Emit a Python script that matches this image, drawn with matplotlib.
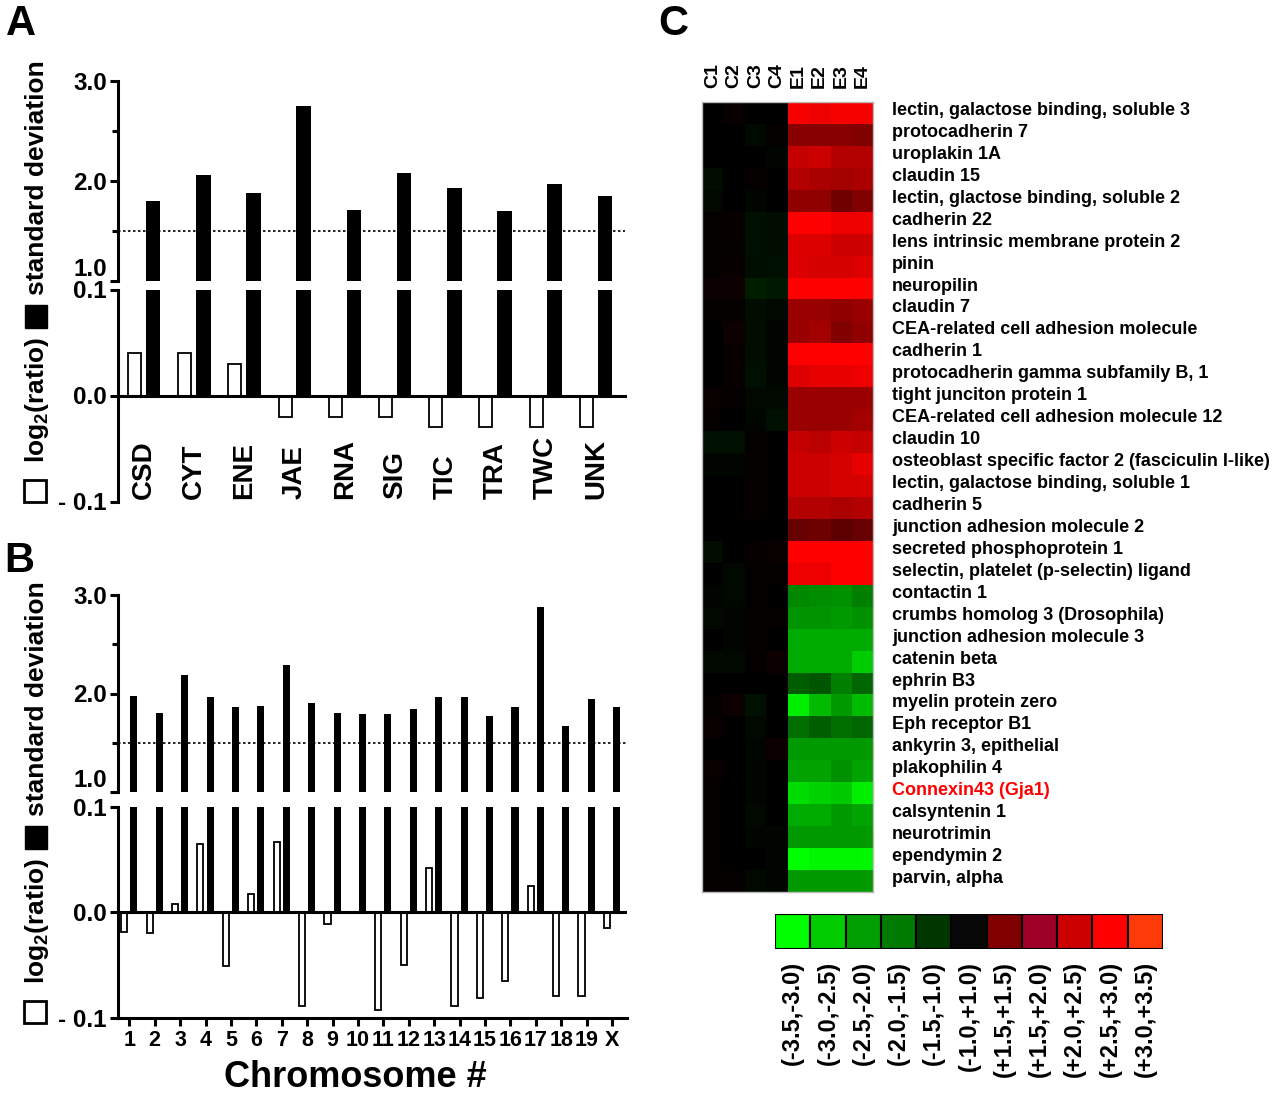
import numpy as np
import matplotlib
matplotlib.use('Agg')
import matplotlib.pyplot as plt
from matplotlib.colors import LinearSegmentedColormap
from matplotlib.patches import Rectangle
import matplotlib.transforms as mtrans

plt.rcParams['font.family'] = ['Liberation Sans', 'DejaVu Sans']
plt.rcParams['font.weight'] = 'bold'
plt.rcParams['mathtext.fontset'] = 'custom'
plt.rcParams['mathtext.rm'] = 'Liberation Sans:bold'
plt.rcParams['mathtext.it'] = 'Liberation Sans:bold'
plt.rcParams['mathtext.bf'] = 'Liberation Sans:bold'

# ---------------- data ----------------
categories_a = ["CSD", "CYT", "ENE", "JAE", "RNA", "SIG", "TIC", "TRA", "TWC", "UNK"]
sd_a = [1.80, 2.06, 1.88, 2.75, 1.71, 2.08, 1.93, 1.70, 1.97, 1.85]
log2_a = [0.040, 0.040, 0.030, -0.020, -0.020, -0.020, -0.030, -0.030, -0.030, -0.030]

chromosomes = ["1", "2", "3", "4", "5", "6", "7", "8", "9", "10",
               "11", "12", "13", "14", "15", "16", "17", "18", "19", "X"]
sd_b = [1.97, 1.80, 2.19, 1.96, 1.86, 1.87, 2.29, 1.90, 1.80, 1.79,
        1.79, 1.84, 1.96, 1.96, 1.77, 1.86, 2.88, 1.67, 1.94, 1.86]
log2_b = [-0.019, -0.020, 0.008, 0.065, -0.051, 0.017, 0.067, -0.089, -0.011, 0.0,
          -0.092, -0.050, 0.042, -0.089, -0.081, -0.065, 0.025, -0.079, -0.079, -0.015]
sd_threshold = 1.5

samples = ["C1", "C2", "C3", "C4", "E1", "E2", "E3", "E4"]
genes = ["lectin, galactose binding, soluble 3", "protocadherin 7", "uroplakin 1A",
         "claudin 15", "lectin, glactose binding, soluble 2", "cadherin 22",
         "lens intrinsic membrane protein 2", "pinin", "neuropilin", "claudin 7",
         "CEA-related cell adhesion molecule", "cadherin 1",
         "protocadherin gamma subfamily B, 1", "tight junciton protein 1",
         "CEA-related cell adhesion molecule 12", "claudin 10",
         "osteoblast specific factor 2 (fasciculin I-like)",
         "lectin, galactose binding, soluble 1", "cadherin 5",
         "junction adhesion molecule 2", "secreted phosphoprotein 1",
         "selectin, platelet (p-selectin) ligand", "contactin 1",
         "crumbs homolog 3 (Drosophila)", "junction adhesion molecule 3",
         "catenin beta", "ephrin B3", "myelin protein zero", "Eph receptor B1",
         "ankyrin 3, epithelial", "plakophilin 4", "Connexin43 (Gja1)",
         "calsyntenin 1", "neurotrimin", "ependymin 2", "parvin, alpha"]
highlight_gene = "Connexin43 (Gja1)"

control_vals = [
    [0.0, 0.1, 0.0, 0.0], [0.0, 0.0, -0.1, 0.05], [0.0, 0.0, 0.0, -0.05],
    [-0.15, 0.0, 0.05, 0.0], [-0.1, 0.0, -0.05, 0.0], [0.05, 0.1, -0.2, -0.15],
    [0.05, 0.05, -0.2, -0.15], [0.05, 0.1, -0.15, -0.2], [0.15, 0.15, -0.35, -0.3],
    [0.05, 0.05, -0.15, -0.1], [0.0, 0.15, -0.15, -0.05], [0.0, 0.1, -0.15, -0.05],
    [0.0, 0.1, -0.2, -0.05], [0.1, 0.05, -0.1, -0.1], [0.05, 0.0, -0.05, -0.2],
    [-0.2, -0.2, 0.05, 0.0], [-0.05, -0.05, 0.05, 0.0], [0.0, 0.0, 0.05, 0.0],
    [0.0, 0.0, 0.05, 0.0], [0.0, 0.0, 0.0, 0.0], [-0.15, 0.0, 0.05, 0.1],
    [0.0, -0.1, 0.05, 0.05], [-0.05, -0.1, 0.05, 0.0], [-0.1, -0.05, 0.05, 0.05],
    [0.0, -0.05, 0.05, 0.0], [-0.1, -0.1, 0.05, 0.15], [0.0, 0.0, 0.0, 0.0],
    [0.05, 0.15, -0.2, 0.0], [0.1, 0.0, -0.1, 0.0], [0.0, 0.0, -0.05, 0.15],
    [0.1, 0.0, -0.05, 0.0], [0.05, 0.0, -0.05, 0.0], [0.05, 0.0, -0.1, 0.0],
    [0.05, 0.0, -0.05, -0.05], [0.05, 0.0, 0.0, -0.05], [0.05, 0.05, -0.1, -0.05]]
experiment_vals = [
    [2.9, 2.8, 2.9, 2.9], [1.6, 1.6, 1.6, 1.5], [2.3, 2.4, 2.1, 2.1],
    [2.1, 2.0, 1.9, 2.0], [1.7, 1.7, 1.3, 1.5], [3.0, 3.0, 2.8, 2.8],
    [2.6, 2.6, 2.4, 2.4], [2.6, 2.5, 2.5, 2.6], [3.0, 3.0, 3.0, 3.0],
    [1.8, 1.8, 1.7, 1.8], [1.8, 1.9, 1.5, 1.7], [3.0, 3.0, 3.0, 3.0],
    [2.6, 2.7, 2.7, 2.8], [1.8, 1.8, 1.8, 1.8], [1.8, 1.8, 1.8, 1.9],
    [2.3, 2.2, 2.4, 2.3], [2.4, 2.4, 2.5, 2.7], [2.4, 2.4, 2.5, 2.5],
    [2.1, 2.1, 2.0, 2.1], [1.2, 1.3, 1.1, 1.2], [3.0, 3.0, 3.0, 3.0],
    [2.8, 2.8, 3.0, 3.0], [-1.6, -1.65, -1.7, -1.5], [-1.75, -1.75, -1.8, -1.7],
    [-2.0, -2.0, -2.0, -2.0], [-2.0, -2.0, -2.0, -2.4], [-1.1, -1.0, -1.5, -1.2],
    [-2.8, -2.2, -1.8, -2.2], [-1.3, -1.1, -1.3, -1.2], [-1.8, -1.8, -1.8, -1.8],
    [-1.9, -1.9, -1.7, -1.9], [-2.6, -2.45, -2.35, -2.8], [-2.0, -2.0, -1.8, -1.9],
    [-1.8, -1.8, -1.8, -1.8], [-3.0, -2.9, -2.9, -2.9], [-1.8, -1.8, -1.8, -1.8]]

legend_bins = ["(-3.5,-3.0)", "(-3.0,-2.5)", "(-2.5,-2.0)", "(-2.0,-1.5)", "(-1.5,-1.0)",
               "(-1.0,+1.0)", "(+1.5,+1.5)", "(+1.5,+2.0)", "(+2.0,+2.5)", "(+2.5,+3.0)",
               "(+3.0,+3.5)"]
legend_colors = ["#00FF00", "#00CC00", "#009E00", "#007A00", "#003600", "#080808",
                 "#800000", "#9E0028", "#CC0000", "#FF0000", "#FF3A0A"]

# ---------------- figure ----------------
W, H = 1278, 1096
fig = plt.figure(figsize=(W / 100, H / 100), dpi=100)
LW = 2.2


def px_axes(left, top, right, bottom):
    return fig.add_axes([left / W, 1 - bottom / H, (right - left) / W, (bottom - top) / H])


def bar_panel(top_box, bot_box, cats, sd, lr, xlim, off_w, off_b, w_w, w_b, panel_b):
    ax_t = px_axes(*top_box)
    ax_b = px_axes(*bot_box)
    x = np.arange(len(cats))
    for ax in (ax_t, ax_b):
        ax.bar(x + off_b, sd, width=w_b, color='black', linewidth=0, zorder=2)
        ax.set_xlim(xlim)
        ax.spines[['top', 'right']].set_visible(False)
        ax.spines['left'].set_linewidth(LW)
        ax.tick_params(axis='y', which='major', direction='out', width=LW, length=6,
                       labelsize=17.5, pad=2)
        ax.tick_params(axis='y', which='minor', direction='out', width=LW, length=4)
        ax.patch.set_visible(False)
    ax_t.set_ylim(1, 3)
    ax_t.spines['bottom'].set_visible(False)
    ax_t.set_xticks([])
    ax_t.set_yticks([1, 2, 3])
    ax_t.set_yticklabels(['1.0', '2.0', '3.0'])
    ax_t.set_yticks([1.5, 2.5], minor=True)
    ax_t.axhline(sd_threshold, ls=(0, (1.5, 1.5)), color='black', lw=1.2, zorder=1)
    # the "1.0" label sits just above its tick, next to the axis break
    ax_t.get_yticklabels()[0].set_va('bottom')

    ax_b.set_ylim(-0.1, 0.1)
    ax_b.set_yticks([-0.1, 0.0, 0.1])
    ax_b.set_yticklabels(['- 0.1', '0.0', '0.1'])
    ax_b.bar(x + off_w, lr, width=w_w, color='white', edgecolor='black', linewidth=1.3, zorder=2)
    if panel_b:
        ax_b.spines['bottom'].set_linewidth(LW)
        ax_b.axhline(0, color='black', lw=LW, zorder=3)
        ax_b.set_xticks(x)
        ax_b.set_xticklabels(cats)
        ax_b.tick_params(axis='x', direction='out', width=LW, length=6, labelsize=15.5, pad=3)
    else:
        ax_b.spines['bottom'].set_position(('data', 0))
        ax_b.spines['bottom'].set_linewidth(LW)
        ax_b.spines['bottom'].set_zorder(3)
        ax_b.set_xticks([])
        for i, c in enumerate(cats):
            ax_b.text(i, -0.098, c, rotation=90, ha='center', va='bottom', fontsize=20)
    return ax_t, ax_b


# Panel A
bar_panel((118, 81, 625, 281), (118, 289.5, 625, 501.5), categories_a, sd_a, log2_a,
          (-0.52, 9.58), -0.19, 0.18, 0.26, 0.29, False)
# Panel B
bar_panel((118, 595, 627, 792), (118, 806.7, 627, 1018), chromosomes, sd_b, log2_b,
          (-0.445, 19.59), -0.2, 0.18, 0.24, 0.28, True)


def ylabel_block(dy):
    fig.add_artist(Rectangle((24 / W, 1 - (502 + dy) / H), 22 / W, 22 / H,
                             transform=fig.transFigure, facecolor='white',
                             edgecolor='black', lw=2))
    fig.add_artist(Rectangle((25 / W, 1 - (328 + dy) / H), 22 / W, 23 / H,
                             transform=fig.transFigure, facecolor='black',
                             edgecolor='black', lw=1))
    fig.text(37 / W, 1 - (400 + dy) / H, r'log$_{2}$(ratio)', rotation=90,
             ha='center', va='center', fontsize=19)
    fig.text(37 / W, 1 - (178 + dy) / H, 'standard deviation', rotation=90,
             ha='center', va='center', fontsize=19)


ylabel_block(0)
ylabel_block(521)

fig.text(355 / W, 1 - 1087 / H, 'Chromosome #', ha='center', va='baseline', fontsize=26)

# Panel letters
fig.text(6 / W, 1 - 35 / H, 'A', fontsize=30, va='baseline')
fig.text(4 / W, 1 - 572 / H, 'B', fontsize=30, va='baseline')
fig.text(658 / W, 1 - 35 / H, 'C', fontsize=30, va='baseline')

# Panel C heatmap
cmap = LinearSegmentedColormap.from_list('gkr', [(0, '#00FF00'), (0.5, '#000000'), (1, '#FF0000')])
data = np.hstack([np.array(control_vals), np.array(experiment_vals)])
axh = px_axes(701.7, 101.7, 873.3, 891.7)
axh.imshow(data, cmap=cmap, vmin=-3, vmax=3, aspect='auto', interpolation='nearest')
axh.set_xticks([])
axh.set_yticks([])
for s in axh.spines.values():
    s.set_color('#bbbbbb')
    s.set_linewidth(1)
tr_col = mtrans.blended_transform_factory(axh.transData, axh.transAxes)
for j, s in enumerate(samples):
    axh.text(j, 1.017, s, transform=tr_col, rotation=90, ha='center', va='bottom', fontsize=14)
tr_row = mtrans.blended_transform_factory(axh.transAxes, axh.transData)
for i, g in enumerate(genes):
    axh.text(1.109, i - 0.1, g, transform=tr_row, ha='left', va='center', fontsize=13,
             color='#FF0000' if g == highlight_gene else 'black')

# Color legend
axl = px_axes(775, 914, 1163, 949)
axl.bar(np.arange(len(legend_bins)), np.ones(len(legend_bins)), width=1.0,
        color=legend_colors, edgecolor='black', linewidth=1.5)
axl.set_xlim(-0.5, len(legend_bins) - 0.5)
axl.set_ylim(0, 1)
axl.axis('off')
tr_leg = mtrans.blended_transform_factory(axl.transData, axl.transAxes)
for i, b in enumerate(legend_bins):
    axl.text(i, -0.34, b, transform=tr_leg, rotation=90, ha='center', va='top', fontsize=17)

fig.savefig('out.png', dpi=100)
